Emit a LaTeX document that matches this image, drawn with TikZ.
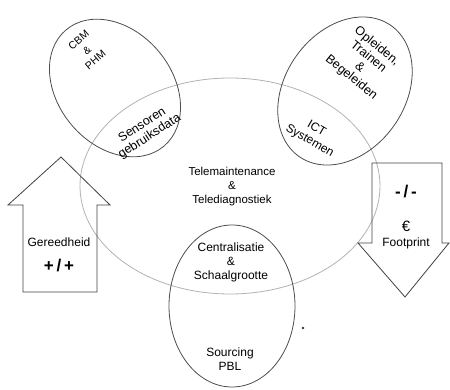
\documentclass[tikz,border=0pt]{standalone}
\usepackage{fontspec}
\setmainfont{Liberation Sans}
\begin{document}
\begin{tikzpicture}[x=1pt, y=-1pt,
    klein/.style={draw=black!70, line width=0.8pt},
    groot/.style={draw=black!30, line width=0.8pt},
    pijl/.style={draw=black!75, line width=0.8pt, line join=miter},
    tekst/.style={align=center, inner sep=0pt, font=\fontsize{12}{14}\selectfont},
    schuin/.style={align=center, inner sep=0pt, font=\fontsize{12.5}{13.5}\selectfont},
    teken/.style={align=center, inner sep=0pt, font=\fontsize{17}{19}\selectfont\bfseries}]
    \useasboundingbox (0,0) rectangle (450,390);

    % grote ellips
    \draw[groot] (230,186) ellipse [x radius=150, y radius=108];

    % kleine ellipsen
    \draw[klein, rotate around={-50:(115,88)}] (115,88) ellipse [x radius=76, y radius=57];
    \draw[klein, rotate around={55:(345,91)}] (345,91) ellipse [x radius=80, y radius=60];
    \draw[klein] (232,306) ellipse [x radius=63, y radius=81];

    % pijlen
    \draw[pijl] (23,292) -- (23,205) -- (8,205) -- (61,157) -- (110,205)
        -- (97,205) -- (97,292) -- cycle;
    \draw[pijl] (372,163) -- (442,163) -- (442,243) -- (449,243) -- (405,297)
        -- (358,243) -- (372,243) -- cycle;

    % teksten
    \node[schuin, rotate=40, font=\fontsize{10.5}{13}\selectfont] (cbm) at (87,50) {CBM\\\&\\PHM};
    \node[schuin, rotate=33] (sensoren) at (146,131) {Sensoren\\gebruiksdata};
    \node[schuin, rotate=-39] (opleiden) at (364,62) {Opleiden,\\Trainen\\\&\\Begeleiden};
    \node[schuin, rotate=-30, font=\fontsize{12}{13.5}\selectfont] (ict) at (313,135) {ICT\\Systemen};
    \node[tekst, font=\fontsize{11.5}{14}\selectfont] (tele) at (232,187) {Telemaintenance\\\&\\Telediagnostiek};
    \node[tekst] (centraal) at (231,262) {Centralisatie\\\&\\Schaalgrootte};
    \node[tekst] (sourcing) at (230,359) {Sourcing\\PBL};

    % teksten in de pijlen
    \node[tekst] (gereed) at (59,242) {Gereedheid};
    \node[teken] (plus) at (59,266) {+\,/\,+};
    \node[teken] (min) at (406,192) {-\,/\,-};
    \node[tekst, font=\fontsize{15}{16}\selectfont] (euro) at (406,226) {€};
    \node[tekst] (foot) at (406,243) {Footprint};

    \fill[black!80] (303,328) circle (1.3pt);
\end{tikzpicture}
\end{document}
